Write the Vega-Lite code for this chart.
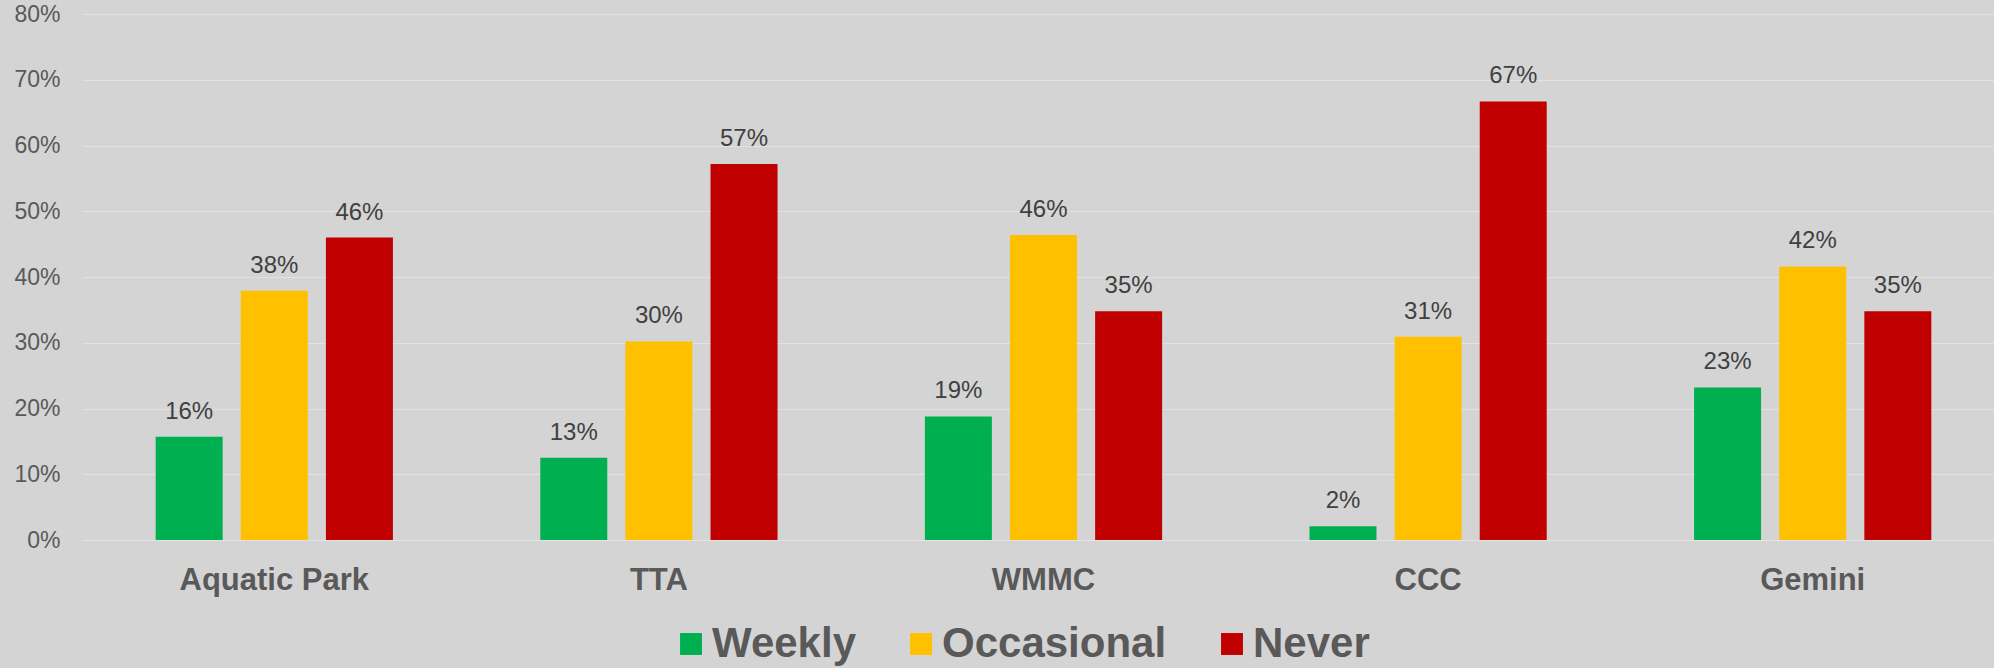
{
  "$schema": "https://vega.github.io/schema/vega-lite/v6.json",
  "width": 1923,
  "height": 526,
  "autosize": {"type": "none"},
  "padding": {"left": 82, "top": 14, "right": 0, "bottom": 128},
  "background": "#D4D4D4",
  "config": {"view": {"stroke": null}, "font": "Liberation Sans"},
  "data": {
    "values": [
      {"site": "Aquatic Park", "freq": "Weekly", "value": 0.157},
      {"site": "Aquatic Park", "freq": "Occasional", "value": 0.379},
      {"site": "Aquatic Park", "freq": "Never", "value": 0.46},
      {"site": "TTA", "freq": "Weekly", "value": 0.125},
      {"site": "TTA", "freq": "Occasional", "value": 0.302},
      {"site": "TTA", "freq": "Never", "value": 0.572},
      {"site": "WMMC", "freq": "Weekly", "value": 0.188},
      {"site": "WMMC", "freq": "Occasional", "value": 0.464},
      {"site": "WMMC", "freq": "Never", "value": 0.348},
      {"site": "CCC", "freq": "Weekly", "value": 0.021},
      {"site": "CCC", "freq": "Occasional", "value": 0.309},
      {"site": "CCC", "freq": "Never", "value": 0.667},
      {"site": "Gemini", "freq": "Weekly", "value": 0.232},
      {"site": "Gemini", "freq": "Occasional", "value": 0.416},
      {"site": "Gemini", "freq": "Never", "value": 0.348}
    ]
  },
  "encoding": {
    "x": {
      "field": "site", "type": "nominal",
      "sort": ["Aquatic Park", "TTA", "WMMC", "CCC", "Gemini"],
      "scale": {"paddingInner": 0.336, "paddingOuter": 0.168},
      "axis": {"title": null, "labelAngle": 0, "ticks": false, "domain": false, "labelFontSize": 31, "labelFontWeight": "bold", "labelColor": "#595959", "labelPadding": 25, "labelLimit": 400, "grid": false}
    },
    "xOffset": {
      "field": "freq", "type": "nominal",
      "sort": ["Weekly", "Occasional", "Never"],
      "scale": {"paddingInner": 0.213, "paddingOuter": 0.1065}
    },
    "y": {
      "field": "value", "type": "quantitative",
      "scale": {"domain": [0, 0.8]},
      "axis": {"title": null, "format": ".0%", "values": [0, 0.1, 0.2, 0.3, 0.4, 0.5, 0.6, 0.7, 0.8], "ticks": false, "domain": false, "labelFontSize": 23, "labelColor": "#595959", "labelPadding": 22, "gridColor": "#E2E2E2", "gridWidth": 1}
    }
  },
  "layer": [
    {
      "mark": {"type": "bar"},
      "encoding": {
        "color": {
          "field": "freq", "type": "nominal",
          "sort": ["Weekly", "Occasional", "Never"],
          "scale": {"domain": ["Weekly", "Occasional", "Never"], "range": ["#00B050", "#FFC000", "#C00000"]},
          "legend": {"title": null, "orient": "none", "direction": "horizontal", "legendX": 588, "legendY": 609, "symbolType": "square", "symbolSize": 480, "symbolStrokeWidth": 0, "symbolOpacity": 1, "labelFontSize": 42, "labelFontWeight": "bold", "labelColor": "#595959", "labelOffset": 0, "columnPadding": 44, "labelLimit": 400}
        }
      }
    },
    {
      "mark": {"type": "text", "dy": -18, "baseline": "alphabetic", "fontSize": 24, "color": "#404040"},
      "encoding": {"text": {"field": "value", "type": "quantitative", "format": ".0%"}}
    }
  ]
}
